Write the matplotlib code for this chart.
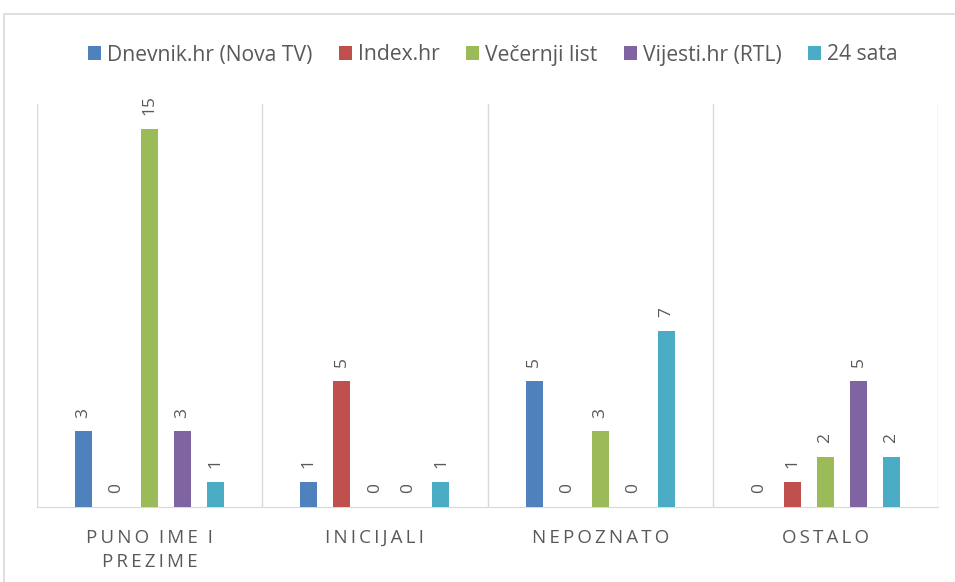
import matplotlib.pyplot as plt
import matplotlib.patches as patches
import numpy as np

plt.rcParams['font.family'] = ['Open Sans', 'DejaVu Sans']

categories = ["PUNO IME I\nPREZIME", "INICIJALI", "NEPOZNATO", "OSTALO"]
series_names = ["Dnevnik.hr (Nova TV)", "Index.hr", "Večernji list", "Vijesti.hr (RTL)", "24 sata"]
dnevnik = [3, 1, 5, 0]
index_hr = [0, 5, 0, 1]
vecernji = [15, 0, 3, 2]
vijesti = [3, 0, 0, 5]
sata24 = [1, 1, 7, 2]
colors = ["#4F81BD", "#C0504D", "#9BBB59", "#8064A2", "#4BACC6"]

text_color = "#595959"
grid_color = "#d9d9d9"


def spaced(label):
    # imitate Excel's letter spacing on the category axis
    lines = []
    for line in label.split("\n"):
        words = ["\u2009".join(list(w)) for w in line.split(" ")]
        lines.append("  ".join(words))
    return "\n".join(lines)


fig = plt.figure(figsize=(9.55, 5.82), dpi=100)
ax = fig.add_axes([37 / 955, 1 - 507 / 582, (938 - 37) / 955, (507 - 104) / 582])

# chart frame
fig.patches.append(patches.Rectangle((4 / 955, -0.1), 1.2, 1 - 14 / 582 + 0.1,
                                     transform=fig.transFigure, fill=False,
                                     edgecolor=grid_color, linewidth=1.2))

data = [dnevnik, index_hr, vecernji, vijesti, sata24]
x = np.arange(len(categories))
step = 0.1467
width = 0.0756
for i, (vals, name, c) in enumerate(zip(data, series_names, colors)):
    pos = x + 0.5 + (i - 2) * step
    ax.bar(pos, vals, width, color=c, label=name, zorder=3)
    for p, v in zip(pos, vals):
        ax.text(p, v + 0.55, str(v), rotation=90, ha='center', va='bottom',
                fontsize=12.5, color=text_color)

ax.set_xlim(0, len(categories))
ax.set_ylim(0, 16)
ax.set_yticks([])
ax.set_xticks(x + 0.5)
ax.set_xticklabels([spaced(c) for c in categories], fontsize=13.5, color=text_color,
                   linespacing=1.4)
ax.tick_params(axis='x', length=0, pad=16)
for b in range(len(categories) + 1):
    ax.axvline(b, color=grid_color, linewidth=1, zorder=1)
for s in ['top', 'left', 'right']:
    ax.spines[s].set_visible(False)
ax.spines['bottom'].set_color(grid_color)

fig.legend(loc='center', bbox_to_anchor=(493 / 955, 1 - 55 / 582), ncol=5,
           frameon=False, fontsize=15.2, handlelength=0.6, handleheight=0.6,
           handletextpad=0.3, columnspacing=1.25, labelcolor=text_color)

fig.savefig("out.png", dpi=100)
